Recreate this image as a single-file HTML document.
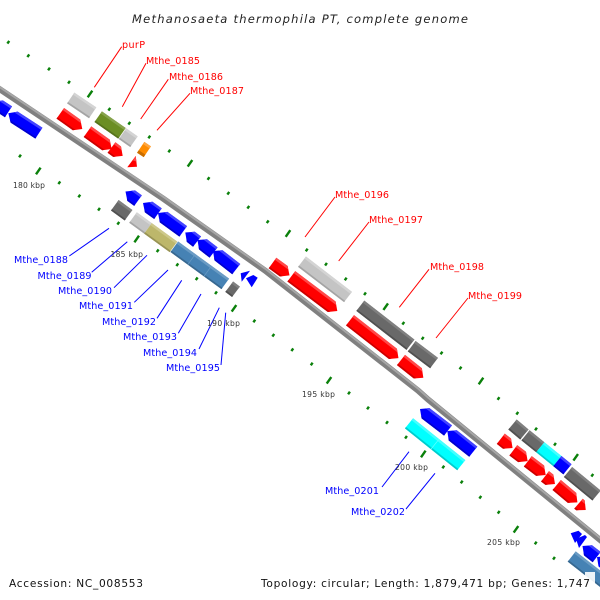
<!DOCTYPE html>
<html><head><meta charset="utf-8"><style>
html,body{margin:0;padding:0;background:#fff}
svg{display:block}
text{font-family:"DejaVu Sans","Liberation Sans",sans-serif}
text.r{fill:#f00;font-size:9.6px}
text.b{fill:#00f;font-size:9.6px}
text.k{fill:#333;font-size:7.6px}
text.t{fill:#111;font-size:10.6px}
</style></head><body>
<svg width="600" height="600" viewBox="0 0 600 600" xmlns="http://www.w3.org/2000/svg">
<defs>
<rect id="d" x="-1.6" y="-1.2" width="3.2" height="2.4" fill="#0a800a"/>
<rect id="D" x="-4" y="-1.2" width="8" height="2.4" fill="#0a800a"/>
</defs>
<rect width="600" height="600" fill="#fff"/>

<!-- backbone -->
<polyline points="-2,88 163,198.5 265,270.5 418,390.5 428,399.5 602,541.5" fill="none" stroke="#808080" stroke-width="6"/>
<polyline points="-2,86 163,196.5 265,268.5 418,388.5 428,397.5 602,539.5" fill="none" stroke="#a6a6a6" stroke-width="2"/>

<!-- outer ticks -->
<g>
<use href="#d" transform="translate(8.3 42.3) rotate(-55)"/><use href="#d" transform="translate(28.3 55.7) rotate(-55)"/><use href="#d" transform="translate(49 69) rotate(-55)"/><use href="#d" transform="translate(69 82.3) rotate(-55)"/><use href="#D" transform="translate(90 94) rotate(-55)"/>
<use href="#d" transform="translate(109.3 109.3) rotate(-55)"/><use href="#d" transform="translate(129.3 123.3) rotate(-55)"/><use href="#d" transform="translate(149.3 137) rotate(-55)"/><use href="#d" transform="translate(169.3 151) rotate(-55)"/><use href="#D" transform="translate(190 163.3) rotate(-55)"/>
<use href="#d" transform="translate(208.5 178.5) rotate(-55)"/><use href="#d" transform="translate(228.3 193.3) rotate(-55)"/><use href="#d" transform="translate(248.3 207.3) rotate(-55)"/><use href="#d" transform="translate(267.7 221.7) rotate(-55)"/><use href="#D" transform="translate(288 233.5) rotate(-55)"/>
<use href="#d" transform="translate(306.7 250) rotate(-55)"/><use href="#d" transform="translate(326 264.3) rotate(-55)"/><use href="#d" transform="translate(345.7 279) rotate(-55)"/><use href="#d" transform="translate(365 293.7) rotate(-55)"/><use href="#D" transform="translate(385.7 306.7) rotate(-55)"/>
<use href="#d" transform="translate(403.3 323.3) rotate(-55)"/><use href="#d" transform="translate(422.7 338.3) rotate(-55)"/><use href="#d" transform="translate(441.5 353) rotate(-55)"/><use href="#d" transform="translate(460.5 368) rotate(-55)"/><use href="#D" transform="translate(481 381) rotate(-55)"/>
<use href="#d" transform="translate(498.5 398.5) rotate(-55)"/><use href="#d" transform="translate(517.3 413.3) rotate(-55)"/><use href="#d" transform="translate(536 429) rotate(-55)"/><use href="#d" transform="translate(555 444.3) rotate(-55)"/><use href="#D" transform="translate(575.7 457.3) rotate(-55)"/>
<use href="#d" transform="translate(592.3 475.3) rotate(-55)"/>
<!-- inner ticks -->
<use href="#d" transform="translate(20 156) rotate(-55)"/><use href="#D" transform="translate(38.3 171) rotate(-55)"/><use href="#d" transform="translate(59.3 182.7) rotate(-55)"/><use href="#d" transform="translate(79.3 196) rotate(-55)"/><use href="#d" transform="translate(99 209.3) rotate(-55)"/>
<use href="#d" transform="translate(118.3 223.3) rotate(-55)"/><use href="#D" transform="translate(136.7 239) rotate(-55)"/><use href="#d" transform="translate(157.7 250.7) rotate(-55)"/><use href="#d" transform="translate(177.3 264.7) rotate(-55)"/><use href="#d" transform="translate(196.7 278.7) rotate(-55)"/>
<use href="#d" transform="translate(216 292.7) rotate(-55)"/><use href="#D" transform="translate(234 308.3) rotate(-55)"/><use href="#d" transform="translate(254.3 321) rotate(-55)"/><use href="#d" transform="translate(273.3 335.3) rotate(-55)"/><use href="#d" transform="translate(292.3 349.7) rotate(-55)"/>
<use href="#d" transform="translate(311.7 364) rotate(-55)"/><use href="#D" transform="translate(329 380.3) rotate(-55)"/><use href="#d" transform="translate(349 393) rotate(-55)"/><use href="#d" transform="translate(368 408) rotate(-55)"/><use href="#d" transform="translate(387 422.5) rotate(-55)"/>
<use href="#d" transform="translate(406 437.3) rotate(-55)"/><use href="#D" transform="translate(423.3 454) rotate(-55)"/><use href="#d" transform="translate(443.3 467) rotate(-55)"/><use href="#d" transform="translate(461.7 482) rotate(-55)"/><use href="#d" transform="translate(480.3 497.3) rotate(-55)"/>
<use href="#d" transform="translate(498.7 512.3) rotate(-55)"/><use href="#D" transform="translate(516 529.3) rotate(-55)"/><use href="#d" transform="translate(535.7 543) rotate(-55)"/><use href="#d" transform="translate(554 558.3) rotate(-55)"/>
</g>

<!-- rectangular genes -->
<g transform="translate(70.7 98) rotate(34)"><rect y="-6.5" width="26.5" height="13" fill="#c4c4c4"/><rect y="-6.5" width="26.5" height="2.5" fill="#d4d4d4"/><rect y="4.8" width="26.5" height="1.7" fill="#a4a4a4"/></g>
<g transform="translate(98.2 116.7) rotate(35)"><rect y="-6.5" width="29" height="13" fill="#6b8e23"/><rect y="-6.5" width="29" height="2.5" fill="#86a34c"/><rect y="4.8" width="29" height="1.7" fill="#56731c"/></g>
<g transform="translate(122.5 133.7) rotate(35)"><rect y="-6.5" width="14" height="13" fill="#c4c4c4"/><rect y="-6.5" width="14" height="2.5" fill="#d4d4d4"/><rect y="4.8" width="14" height="1.7" fill="#a4a4a4"/></g>
<g transform="translate(140.7 147.3) rotate(34)"><rect y="-6.5" width="8" height="13" fill="#ff8c00"/><rect y="-6.5" width="8" height="2.5" fill="#ffa640"/><rect y="3.5" width="8" height="3" fill="#c96e00"/></g>
<g transform="translate(114.8 205.3) rotate(36)"><rect y="-6.5" width="17" height="13" fill="#696969"/><rect y="-6.5" width="17" height="2.5" fill="#808080"/><rect y="4.8" width="17" height="1.7" fill="#505050"/></g>
<g transform="translate(133 217.5) rotate(36)"><rect y="-6.5" width="18.5" height="13" fill="#c4c4c4"/><rect y="-6.5" width="18.5" height="2.5" fill="#d4d4d4"/><rect y="4.8" width="18.5" height="1.7" fill="#a4a4a4"/><rect x="18.5" y="-6.5" width="31.5" height="13" fill="#bdb76b"/><rect x="18.5" y="-6.5" width="31.5" height="2.5" fill="#cdc88a"/><rect x="18.5" y="4.8" width="31.5" height="1.7" fill="#989355"/></g>
<g transform="translate(174.3 246.8) rotate(36)"><rect y="-6.5" width="63" height="13" fill="#4682b4"/><rect y="-6.5" width="63" height="2.5" fill="#6a9bc4"/><rect y="4.8" width="63" height="1.7" fill="#386890"/><rect x="21" y="-6.5" width=".7" height="13" fill="#6a9bc4"/><rect x="41" y="-6.5" width=".7" height="13" fill="#6a9bc4"/></g>
<g transform="translate(229.2 286.7) rotate(37)"><rect y="-6.5" width="8.5" height="13" fill="#696969"/><rect y="-6.5" width="8.5" height="2.5" fill="#808080"/><rect y="4.8" width="8.5" height="1.7" fill="#505050"/></g>
<g transform="translate(302 261.7) rotate(37.5)"><rect y="-6.5" width="58" height="13" fill="#c4c4c4"/><rect y="-6.5" width="58" height="2.5" fill="#d4d4d4"/><rect y="4.8" width="58" height="1.7" fill="#a4a4a4"/></g>
<g transform="translate(360.3 305.8) rotate(37.8)"><rect y="-6.5" width="63.5" height="13" fill="#696969"/><rect y="-6.5" width="63.5" height="2.5" fill="#808080"/><rect y="4.8" width="63.5" height="1.7" fill="#505050"/></g>
<g transform="translate(411.7 346.2) rotate(37)"><rect y="-6.5" width="28" height="13" fill="#696969"/><rect y="-6.5" width="28" height="2.5" fill="#808080"/><rect y="4.8" width="28" height="1.7" fill="#505050"/></g>
<g transform="translate(409 423.3) rotate(38.7)"><rect y="-6.5" width="67" height="13" fill="#0ff"/><rect y="-6.5" width="67" height="2.5" fill="#4ff"/><rect y="4.8" width="67" height="1.7" fill="#0cc"/><rect x="33" y="-6.5" width=".7" height="13" fill="#6ff"/></g>
<g transform="translate(512.5 424.5) rotate(40)"><rect y="-6.5" width="15.5" height="13" fill="#696969"/><rect y="-6.5" width="15.5" height="2.5" fill="#808080"/><rect y="4.8" width="15.5" height="1.7" fill="#505050"/></g>
<g transform="translate(525.5 435.3) rotate(39)"><rect y="-6.5" width="19" height="13" fill="#696969"/><rect y="-6.5" width="19" height="2.5" fill="#808080"/><rect y="4.8" width="19" height="1.7" fill="#505050"/><rect x="19" y="-6.5" width="22" height="13" fill="#0ff"/><rect x="19" y="-6.5" width="22" height="2.5" fill="#4ff"/><rect x="19" y="4.8" width="22" height="1.7" fill="#0cc"/><rect x="41" y="-6.5" width="13" height="13" fill="#00f"/><rect x="41" y="-6.5" width="13" height="2.5" fill="#44f"/><rect x="41" y="4.8" width="13" height="1.7" fill="#00c"/></g>
<g transform="translate(568 472) rotate(39.5)"><rect y="-6.5" width="37" height="13" fill="#696969"/><rect y="-6.5" width="37" height="2.5" fill="#808080"/><rect y="4.8" width="37" height="1.7" fill="#505050"/></g>
<g transform="translate(571.7 556.5) rotate(38)"><rect y="-6.5" width="42" height="13" fill="#4682b4"/><rect y="-6.5" width="42" height="2.5" fill="#6a9bc4"/><rect y="4.8" width="42" height="1.7" fill="#386890"/></g>

<!-- red forward arrows -->
<g fill="#f00">
<g transform="translate(60.3 113.3) rotate(35.5)"><polygon points="0,-6.5 20,-6.5 27,0 20,6.5 0,6.5"/><polygon points="0,-6.5 20,-6.5 22.5,-4 0,-4" fill="#ff4848"/><polygon points="0,4.8 21.7,4.8 20,6.5 0,6.5" fill="#c00"/></g>
<g transform="translate(87.5 131.7) rotate(35.6)"><polygon points="0,-6.5 22.7,-6.5 29.7,0 22.7,6.5 0,6.5"/><polygon points="0,-6.5 22.7,-6.5 25.2,-4 0,-4" fill="#ff4848"/><polygon points="0,4.8 24.4,4.8 22.7,6.5 0,6.5" fill="#c00"/></g>
<g transform="translate(111.5 147.5) rotate(37)"><polygon points="0,-6.5 7,-6.5 14,0 7,6.5 0,6.5"/><polygon points="0,-6.5 7,-6.5 9.5,-4 0,-4" fill="#ff4848"/><polygon points="0,4.8 8.7,4.8 7,6.5 0,6.5" fill="#c00"/></g>
<g transform="translate(272.5 263) rotate(36)"><polygon points="0,-6.5 14,-6.5 21,0 14,6.5 0,6.5"/><polygon points="0,-6.5 14,-6.5 16.5,-4 0,-4" fill="#ff4848"/><polygon points="0,4.8 15.7,4.8 14,6.5 0,6.5" fill="#c00"/></g>
<g transform="translate(291.3 276.3) rotate(37)"><polygon points="0,-6.5 50.6,-6.5 57.6,0 50.6,6.5 0,6.5"/><polygon points="0,-6.5 50.6,-6.5 53.1,-4 0,-4" fill="#ff4848"/><polygon points="0,4.8 52.3,4.8 50.6,6.5 0,6.5" fill="#c00"/></g>
<g transform="translate(350 320.3) rotate(38)"><polygon points="0,-6.5 54.5,-6.5 61.5,0 54.5,6.5 0,6.5"/><polygon points="0,-6.5 54.5,-6.5 57,-4 0,-4" fill="#ff4848"/><polygon points="0,4.8 56.2,4.8 54.5,6.5 0,6.5" fill="#c00"/></g>
<g transform="translate(401 360) rotate(38.4)"><polygon points="0,-6.5 21.5,-6.5 28.5,0 21.5,6.5 0,6.5"/><polygon points="0,-6.5 21.5,-6.5 24,-4 0,-4" fill="#ff4848"/><polygon points="0,4.8 23.2,4.8 21.5,6.5 0,6.5" fill="#c00"/></g>
<g transform="translate(500.8 438.8) rotate(38)"><polygon points="0,-6.5 7.9,-6.5 14.9,0 7.9,6.5 0,6.5"/><polygon points="0,-6.5 7.9,-6.5 10.4,-4 0,-4" fill="#ff4848"/><polygon points="0,4.8 9.6,4.8 7.9,6.5 0,6.5" fill="#c00"/></g>
<g transform="translate(513.3 450.3) rotate(37)"><polygon points="0,-6.5 11,-6.5 18,0 11,6.5 0,6.5"/><polygon points="0,-6.5 11,-6.5 13.5,-4 0,-4" fill="#ff4848"/><polygon points="0,4.8 12.7,4.8 11,6.5 0,6.5" fill="#c00"/></g>
<g transform="translate(527.8 461.3) rotate(37.4)"><polygon points="0,-6.5 15.5,-6.5 22.5,0 15.5,6.5 0,6.5"/><polygon points="0,-6.5 15.5,-6.5 18,-4 0,-4" fill="#ff4848"/><polygon points="0,4.8 17.2,4.8 15.5,6.5 0,6.5" fill="#c00"/></g>
<g transform="translate(545 476.3) rotate(37.6)"><polygon points="0,-6.5 5.6,-6.5 12.6,0 5.6,6.5 0,6.5"/><polygon points="0,-6.5 5.6,-6.5 8.1,-4 0,-4" fill="#ff4848"/><polygon points="0,4.8 7.3,4.8 5.6,6.5 0,6.5" fill="#c00"/></g>
<g transform="translate(556.7 485) rotate(40)"><polygon points="0,-6.5 20,-6.5 27,0 20,6.5 0,6.5"/><polygon points="0,-6.5 20,-6.5 22.5,-4 0,-4" fill="#ff4848"/><polygon points="0,4.8 21.7,4.8 20,6.5 0,6.5" fill="#c00"/></g>
<g transform="translate(578.5 503.7) rotate(41)"><polygon points="0,-6.5 2.6,-6.5 9.6,0 2.6,6.5 0,6.5"/><polygon points="0,-6.5 2.6,-6.5 5.1,-4 0,-4" fill="#ff4848"/><polygon points="0,4.8 4.3,4.8 2.6,6.5 0,6.5" fill="#c00"/></g>
<polygon points="127.3,167.3 135.7,156 137,166.7"/>
<polygon points="133,160.5 135.7,156 136.4,161.5" fill="#ff4848"/>
</g>

<!-- blue reverse arrows -->
<g fill="#00f">
<g transform="translate(-6.6 102) rotate(33)"><polygon points="0,0 7,-6.5 18,-6.5 18,6.5 7,6.5"/><polygon points="4.3,-4 7,-6.5 18,-6.5 18,-4" fill="#44f"/><polygon points="5.2,4.8 18,4.8 18,6.5 7,6.5" fill="#00c"/></g>
<g transform="translate(8.3 113.3) rotate(33)"><polygon points="0,0 7,-6.5 36.5,-6.5 36.5,6.5 7,6.5"/><polygon points="4.3,-4 7,-6.5 36.5,-6.5 36.5,-4" fill="#44f"/><polygon points="5.2,4.8 36.5,4.8 36.5,6.5 7,6.5" fill="#00c"/></g>
<g transform="translate(125.5 191.5) rotate(36)"><polygon points="0,0 7,-6.5 15.5,-6.5 15.5,6.5 7,6.5"/><polygon points="4.3,-4 7,-6.5 15.5,-6.5 15.5,-4" fill="#44f"/><polygon points="5.2,4.8 15.5,4.8 15.5,6.5 7,6.5" fill="#00c"/></g>
<g transform="translate(143 203) rotate(35.5)"><polygon points="0,0 7,-6.5 18.4,-6.5 18.4,6.5 7,6.5"/><polygon points="4.3,-4 7,-6.5 18.4,-6.5 18.4,-4" fill="#44f"/><polygon points="5.2,4.8 18.4,4.8 18.4,6.5 7,6.5" fill="#00c"/></g>
<g transform="translate(158 213) rotate(36)"><polygon points="0,0 7,-6.5 31.2,-6.5 31.2,6.5 7,6.5"/><polygon points="4.3,-4 7,-6.5 31.2,-6.5 31.2,-4" fill="#44f"/><polygon points="5.2,4.8 31.2,4.8 31.2,6.5 7,6.5" fill="#00c"/></g>
<g transform="translate(185.3 232.5) rotate(38)"><polygon points="0,0 7,-6.5 14.9,-6.5 14.9,6.5 7,6.5"/><polygon points="4.3,-4 7,-6.5 14.9,-6.5 14.9,-4" fill="#44f"/><polygon points="5.2,4.8 14.9,4.8 14.9,6.5 7,6.5" fill="#00c"/></g>
<g transform="translate(197.5 240) rotate(38)"><polygon points="0,0 7,-6.5 20.4,-6.5 20.4,6.5 7,6.5"/><polygon points="4.3,-4 7,-6.5 20.4,-6.5 20.4,-4" fill="#44f"/><polygon points="5.2,4.8 20.4,4.8 20.4,6.5 7,6.5" fill="#00c"/></g>
<g transform="translate(213 251) rotate(38)"><polygon points="0,0 7,-6.5 29.5,-6.5 29.5,6.5 7,6.5"/><polygon points="4.3,-4 7,-6.5 29.5,-6.5 29.5,-4" fill="#44f"/><polygon points="5.2,4.8 29.5,4.8 29.5,6.5 7,6.5" fill="#00c"/></g>
<g transform="translate(420 409) rotate(37.5)"><polygon points="0,0 7,-6.5 35.3,-6.5 35.3,6.5 7,6.5"/><polygon points="4.3,-4 7,-6.5 35.3,-6.5 35.3,-4" fill="#44f"/><polygon points="5.2,4.8 35.3,4.8 35.3,6.5 7,6.5" fill="#00c"/></g>
<g transform="translate(447.3 431) rotate(38.5)"><polygon points="0,0 7,-6.5 33.2,-6.5 33.2,6.5 7,6.5"/><polygon points="4.3,-4 7,-6.5 33.2,-6.5 33.2,-4" fill="#44f"/><polygon points="5.2,4.8 33.2,4.8 33.2,6.5 7,6.5" fill="#00c"/></g>
<g transform="translate(582.5 546) rotate(38)"><polygon points="0,0 7,-6.5 18,-6.5 18,6.5 7,6.5"/><polygon points="4.3,-4 7,-6.5 18,-6.5 18,-4" fill="#44f"/><polygon points="5.2,4.8 18,4.8 18,6.5 7,6.5" fill="#00c"/></g>
<g transform="translate(597 557) rotate(38)"><polygon points="0,0 7,-6.5 22,-6.5 22,6.5 7,6.5"/></g>
<polygon points="240.7,273.3 250,270.7 241.7,281.7"/>
<polygon points="246,278.3 253.3,275 257.7,277.7 251.7,287.3"/>
<polygon points="570.7,533.3 578.5,530.7 582,534 575,543"/>
<polygon points="576,539 585,535 587,537 579,548"/>
</g>

<!-- connectors -->
<g stroke="#f00" stroke-width="1" fill="none">
<line x1="121.7" y1="46.7" x2="94.3" y2="87.3"/>
<line x1="146" y1="63.3" x2="122.3" y2="106.7"/>
<line x1="168.3" y1="79.3" x2="140.7" y2="119"/>
<line x1="190" y1="93.3" x2="157" y2="130.3"/>
<line x1="335" y1="197" x2="305" y2="237"/>
<line x1="369" y1="222" x2="338.7" y2="261"/>
<line x1="429" y1="269.3" x2="399.3" y2="307.3"/>
<line x1="468" y1="298" x2="436" y2="338"/>
</g>
<g stroke="#00f" stroke-width="1" fill="none">
<line x1="69.3" y1="256" x2="109" y2="228.3"/>
<line x1="91.7" y1="272.3" x2="127.3" y2="241.7"/>
<line x1="114" y1="287.7" x2="147" y2="255.3"/>
<line x1="134.3" y1="302.3" x2="168" y2="270"/>
<line x1="157" y1="318.3" x2="181.7" y2="280.3"/>
<line x1="178.3" y1="333.3" x2="201" y2="294"/>
<line x1="199" y1="349" x2="219.3" y2="307.7"/>
<line x1="221" y1="365" x2="225.7" y2="312.7"/>
<line x1="382" y1="487" x2="409" y2="451.7"/>
<line x1="406" y1="509" x2="435" y2="473.3"/>
</g>

<!-- labels -->
<text class="r" x="122" y="48" textLength="23">purP</text>
<text class="r" x="146" y="64" textLength="54">Mthe_0185</text>
<text class="r" x="169" y="80" textLength="54">Mthe_0186</text>
<text class="r" x="190" y="94" textLength="54">Mthe_0187</text>
<text class="r" x="335" y="198" textLength="54">Mthe_0196</text>
<text class="r" x="369" y="223" textLength="54">Mthe_0197</text>
<text class="r" x="430" y="270" textLength="54">Mthe_0198</text>
<text class="r" x="468" y="299" textLength="54">Mthe_0199</text>
<text class="b" x="14" y="263" textLength="54">Mthe_0188</text>
<text class="b" x="37.5" y="279" textLength="54">Mthe_0189</text>
<text class="b" x="58" y="294" textLength="54">Mthe_0190</text>
<text class="b" x="79" y="309" textLength="54">Mthe_0191</text>
<text class="b" x="102" y="325" textLength="54">Mthe_0192</text>
<text class="b" x="123" y="340" textLength="54">Mthe_0193</text>
<text class="b" x="143" y="356" textLength="54">Mthe_0194</text>
<text class="b" x="166" y="371" textLength="54">Mthe_0195</text>
<text class="b" x="325" y="494" textLength="54">Mthe_0201</text>
<text class="b" x="351" y="515" textLength="54">Mthe_0202</text>
<text class="k" x="13" y="188" textLength="32">180 kbp</text>
<text class="k" x="110.5" y="257" textLength="32.5">185 kbp</text>
<text class="k" x="207" y="326" textLength="33">190 kbp</text>
<text class="k" x="302" y="397" textLength="33">195 kbp</text>
<text class="k" x="395" y="470" textLength="33">200 kbp</text>
<text class="k" x="487" y="545" textLength="33">205 kbp</text>

<text x="132" y="23" font-size="11.5" font-style="italic" fill="#222" textLength="336">Methanosaeta thermophila PT, complete genome</text>

<rect x="585" y="572" width="10" height="18" fill="#fff" opacity=".9"/>
<text class="t" x="9" y="587" textLength="134">Accession: NC_008553</text>
<text class="t" x="261" y="587" textLength="329">Topology: circular; Length: 1,879,471 bp; Genes: 1,747</text>
</svg>
</body></html>
